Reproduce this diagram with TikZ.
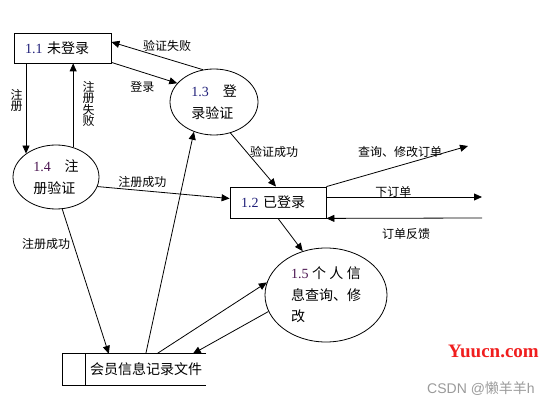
\documentclass[tikz,border=0pt]{standalone}
\usepackage{fontspec}
\setmainfont{Liberation Serif}
\newfontfamily\cjk{Noto Sans CJK SC}
\newfontfamily\wmsans{Liberation Sans}
\usetikzlibrary{shapes.geometric,arrows.meta,positioning,calc}
\definecolor{numblue}{HTML}{1E1E78}
\definecolor{numpurple}{HTML}{4A1450}
\definecolor{wmred}{HTML}{F01E1E}
\definecolor{wmgray}{HTML}{9A9A9A}
\newcommand{\dfdtxt}{\fontsize{14}{21.5}\selectfont}
\newcommand{\dfdlbl}{\fontsize{12}{12}\selectfont\cjk}
\tikzset{
  procbox/.style={rectangle, draw=black, line width=0.8pt, align=left,
                  inner xsep=11pt, inner ysep=0pt, minimum height=30pt, font=\dfdtxt},
  procell/.style={ellipse, draw=black, line width=0.8pt, align=left,
                  inner sep=0pt, font=\dfdtxt},
  storebox/.style={rectangle, inner sep=0pt, minimum width=120pt,
                   minimum height=31pt, font=\dfdtxt\cjk},
  storeline/.style={line width=0.8pt},
  flowarr/.style={-{Triangle[length=8pt,width=7pt]}, line width=0.8pt, draw=black},
  flowlbl/.style={font=\dfdlbl, inner sep=1pt},
  vlbl/.style={flowlbl, align=center, font=\fontsize{12}{11.5}\selectfont\cjk},
}

\begin{document}
\begin{tikzpicture}[x=1pt, y=-1pt]
  \useasboundingbox (0,0) rectangle (554,406);
  % processes
  \node[procbox, text width=75pt] (n11) at (62.5,48) {{\color{numblue}1.1} {\cjk 未登录}};
  \node[procbox, text width=74pt, minimum height=31pt] (n12) at (278,202.5) {{\color{numblue}1.2} {\cjk 已登录}};
  \node[procell, minimum width=88pt, minimum height=66pt] (e13) at (214,102)
       {{\color{numblue}1.3}\hspace*{14pt}{\cjk 登}\\{\cjk 录验证}};
  \node[procell, minimum width=86pt, minimum height=64pt] (e14) at (56,177)
       {{\color{numpurple}1.4}\hspace*{14pt}{\cjk 注}\\{\cjk 册验证}};
  \node[procell, minimum width=122pt, minimum height=94pt] (e15) at (326,295)
       {{\color{numpurple}1.5} {\cjk 个} {\cjk 人} {\cjk 信}\\{\cjk 息查询、修}\\{\cjk 改}};
  % data store
  \node[storebox] (ds) at (146,369.5) {会员信息记录文件};
  \draw[storeline] (ds.north east) -- ([xshift=-23pt]ds.north west)
        -- ([xshift=-23pt]ds.south west) -- (ds.south east);
  \draw[storeline] (ds.north west) -- (ds.south west);
  % outside ends
  \coordinate (q1) at (468,146);
  \coordinate (q2) at (482,197);
  \coordinate (q3) at (482,218);
  % flows
  \draw[flowarr] ([yshift=1pt]n11.south east) -- (e13.153.4)
        node[flowlbl, pos=.47, below=8pt] {登录};
  \draw[flowarr] (e13.109.5) -- ([yshift=6pt]n11.east)
        node[flowlbl, pos=.39, above=6pt] {验证失败};
  \draw[flowarr] (e14.142.5 |- n11.south) -- (e14.142.5)
        node[vlbl, pos=.41, left=2pt] {注\\册};
  \draw[flowarr] (e14.60) -- (e14.60 |- n11.south)
        node[vlbl, pos=.515, right=8pt] {注\\册\\失\\败};
  \draw[flowarr] (e14.347) -- ([yshift=4pt]n12.west)
        node[flowlbl, pos=.34, above=1.6pt] {注册成功};
  \draw[flowarr] (e14.281) -- ([xshift=23pt]ds.north west)
        node[flowlbl, pos=.243, left=2pt] {注册成功};
  \draw[flowarr] ([xshift=60pt]ds.north west) -- (e13.236.3);
  \draw[flowarr] (e13.298.6) -- ([xshift=-2pt]n12.north)
        node[flowlbl, pos=.358, right=2pt] {验证成功};
  \draw[flowarr] (n12.north east) -- (q1)
        node[flowlbl, pos=.52, above=6.6pt] {查询、修改订单};
  \draw[flowarr] (n12.east |- q2) -- (q2)
        node[flowlbl, pos=.43, above=-2pt] {下订单};
  \draw[flowarr] (q3) -- (n12.south east)
        node[flowlbl, pos=.487, below=9pt] {订单反馈};
  \draw[flowarr] (n12.south) -- (e15.118);
  \draw[flowarr] ([xshift=71pt]ds.north west) -- (e15.168.2);
  \draw[flowarr] (e15.196.4) -- ([xshift=107pt]ds.north west);
  % watermarks
  \node[font=\bfseries\fontsize{19}{19}\selectfont, text=wmred, inner sep=0pt] (wm1)
       at (493.5,351.5) {Yuucn.com};
  \node[font=\fontsize{14}{14}\selectfont, text=wmgray, inner sep=0pt] (wm2)
       at (481,389) {{\wmsans CSDN @}{\cjk 懒羊羊}{\wmsans h}};
\end{tikzpicture}
\end{document}
